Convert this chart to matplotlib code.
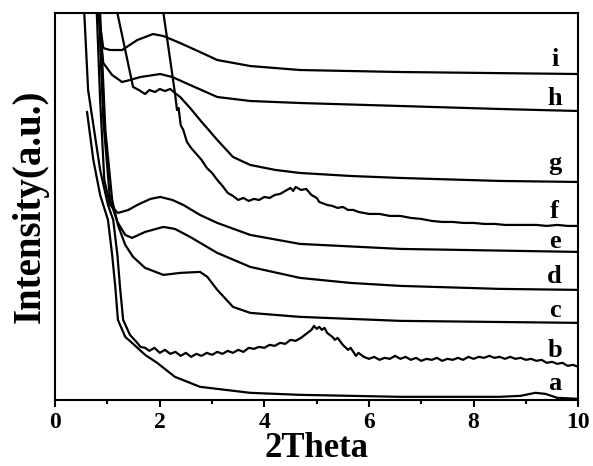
import matplotlib
matplotlib.use("Agg")
import matplotlib.pyplot as plt
from matplotlib.ticker import MultipleLocator

# low-angle XRD patterns a-i (2theta, intensity a.u.)
x_a = [0.61, 0.73, 0.86, 1.01, 1.09, 1.15, 1.20, 1.34, 1.47, 1.72, 1.95, 2.29, 2.77, 3.73, 4.68, 6.60, 8.50, 8.90, 9.18, 9.37, 9.60, 10.0]
y_a = [288, 240, 205, 180, 145, 113, 80, 63, 57, 45, 37, 23, 13, 7, 5, 3, 3, 4, 7, 6, 2, 1]

x_b = [0.535, 0.63, 0.86, 1.01, 1.11, 1.19, 1.24, 1.30, 1.43, 1.57,
       1.63, 1.72, 1.80, 1.90, 2.00, 2.10, 2.20, 2.30, 2.40, 2.50, 2.60, 2.70, 2.80, 2.90, 3.00,
       3.10, 3.20, 3.30, 3.40, 3.50, 3.60, 3.70, 3.80, 3.90, 4.00, 4.10, 4.20, 4.30, 4.40, 4.50,
       4.60, 4.70, 4.80, 4.90, 4.95, 5.00, 5.05, 5.10, 5.15, 5.20, 5.30, 5.35, 5.40, 5.50, 5.60,
       5.65, 5.75, 5.80, 5.90, 6.00, 6.10, 6.20, 6.30, 6.40, 6.50, 6.60, 6.70, 6.80, 6.90, 7.00,
       7.10, 7.20, 7.30, 7.40, 7.50, 7.60, 7.70, 7.80, 7.90, 8.00, 8.10, 8.20, 8.30, 8.40, 8.50,
       8.60, 8.70, 8.80, 8.90, 9.00, 9.10, 9.20, 9.30, 9.40, 9.50, 9.60, 9.70, 9.80, 9.90, 10.0]
y_b = [410, 310, 230, 195, 180, 145, 113, 80, 65, 57,
       53, 52, 49, 52, 47, 50, 46, 48, 44, 47, 43, 46, 44, 47, 45,
       48, 46, 49, 47, 50, 48, 52, 51, 53, 52, 55, 54, 57, 56, 60,
       59, 62, 66, 70, 74, 71, 73, 70, 72, 67, 63, 60, 62, 55, 50,
       52, 44, 47, 43, 41, 43, 40, 42, 41, 44, 41, 43, 40, 42, 39,
       41, 40, 42, 39, 41, 40, 42, 40, 43, 41, 43, 42, 44, 42, 43,
       41, 43, 41, 42, 40, 41, 39, 40, 37, 38, 36, 37, 34, 35, 33]

x_c = [0.84, 0.96, 1.09, 1.20, 1.34, 1.49, 1.72, 2.07, 2.39, 2.77, 2.91, 3.10, 3.40, 3.73, 4.68, 6.60, 10.0]
y_c = [410, 270, 200, 175, 155, 143, 132, 125, 127, 128, 123, 110, 93, 87, 83, 79, 77]

x_d = [0.82, 0.92, 1.05, 1.19, 1.34, 1.47, 1.72, 2.07, 2.29, 2.58, 3.10, 3.73, 4.68, 5.64, 6.60, 8.50, 10.0]
y_d = [410, 280, 200, 178, 165, 162, 168, 173, 171, 163, 147, 133, 122, 117, 114, 111, 110]

x_e = [0.78, 0.86, 0.94, 1.05, 1.20, 1.40, 1.57, 1.82, 2.01, 2.24, 2.45, 2.77, 3.10, 3.73, 4.68, 6.60, 10.0]
y_e = [410, 300, 220, 195, 187, 190, 195, 201, 203, 200, 195, 185, 177, 165, 156, 151, 148]

x_f = [2.01, 2.07, 2.20, 2.29, 2.33, 2.36, 2.40, 2.45, 2.52, 2.60, 2.70, 2.80, 2.90, 3.00, 3.10,
       3.20, 3.30, 3.40, 3.50, 3.60, 3.70, 3.80, 3.90, 4.00, 4.10, 4.20, 4.30, 4.40, 4.50, 4.55,
       4.60, 4.70, 4.80, 4.90, 5.00, 5.05, 5.10, 5.20, 5.30, 5.40, 5.50, 5.60, 5.70, 5.80, 5.90,
       6.00, 6.20, 6.40, 6.60, 6.80, 7.00, 7.20, 7.40, 7.60, 7.80, 8.00, 8.20, 8.40, 8.60, 8.80,
       9.00, 9.20, 9.40, 9.60, 9.80, 10.0]
y_f = [410, 387, 340, 307, 290, 292, 275, 270, 258, 252, 246, 240, 232, 227, 220,
       214, 207, 204, 200, 202, 199, 201, 200, 203, 202, 205, 206, 209, 212, 209,
       213, 210, 211, 205, 202, 198, 197, 195, 194, 192, 193, 190, 190, 188, 187,
       186, 186, 184, 184, 182, 181, 179, 178, 178, 177, 177, 176, 176, 175, 175,
       175, 175, 174, 175, 174, 174]

x_g = [1.09, 1.19, 1.34, 1.49, 1.60, 1.72, 1.80, 1.91, 2.00, 2.10, 2.20, 2.29, 2.39, 2.58, 2.77,
       3.10, 3.40, 3.73, 4.21, 4.68, 5.64, 6.60, 8.50, 10.0]
y_g = [410, 387, 350, 313, 310, 306, 310, 308, 311, 309, 311, 307, 303, 292, 280,
       260, 243, 235, 230, 227, 224, 222, 219, 218]

x_h = [0.80, 0.86, 0.92, 1.09, 1.28, 1.43, 1.63, 2.01, 2.24, 2.58, 3.10, 3.73, 4.68, 6.60, 8.50, 10.0]
y_h = [410, 370, 337, 325, 318, 320, 323, 326, 323, 315, 303, 299, 297, 294, 291, 289]

x_i = [0.76, 0.86, 0.92, 1.05, 1.28, 1.57, 1.87, 2.07, 2.39, 2.77, 3.10, 3.73, 4.68, 6.60, 10.0]
y_i = [410, 375, 352, 350, 350, 360, 366, 364, 357, 348, 340, 334, 330, 328, 326]

curves = [(x_a, y_a), (x_b, y_b), (x_c, y_c), (x_d, y_d), (x_e, y_e),
          (x_f, y_f), (x_g, y_g), (x_h, y_h), (x_i, y_i)]
labels = ["a", "b", "c", "d", "e", "f", "g", "h", "i"]
label_y = [10, 43, 83, 117, 152, 182, 230, 295, 334]

plt.rcParams['font.family'] = ['Liberation Serif', 'DejaVu Serif']
plt.rcParams['font.weight'] = 'bold'

fig = plt.figure(figsize=(5.93, 4.66), dpi=100)
ax = fig.add_axes([0.093, 0.142, 0.882, 0.830])

for (xs, ys) in curves:
    ax.plot(xs, ys, color="black", lw=1.6)

for lab, ly in zip(labels, label_y):
    ax.text(9.55, ly, lab, ha="center", va="baseline", fontsize=19, fontweight="bold")

ax.set_xlim(0, 10)
ax.set_ylim(0, 387)
ax.xaxis.set_major_locator(MultipleLocator(2))
ax.xaxis.set_minor_locator(MultipleLocator(1))
ax.tick_params(axis="x", which="major", direction="out", length=5, width=1.5, labelsize=17, pad=4)
ax.tick_params(axis="x", which="minor", direction="out", length=3, width=1.5)
ax.set_yticks([])
for lbl in ax.get_xticklabels():
    lbl.set_fontweight("bold")
for sp in ax.spines.values():
    sp.set_linewidth(1.5)

ax.set_xlabel("2Theta", fontsize=25, fontweight="bold")
ax.xaxis.label.set_va("baseline")
ax.xaxis.set_label_coords(0.5, -0.147)
ax.set_ylabel("Intensity(a.u.)", fontsize=28, fontweight="bold")
ax.yaxis.set_label_coords(-0.013, 0.5)

fig.savefig("out.png", dpi=100)
